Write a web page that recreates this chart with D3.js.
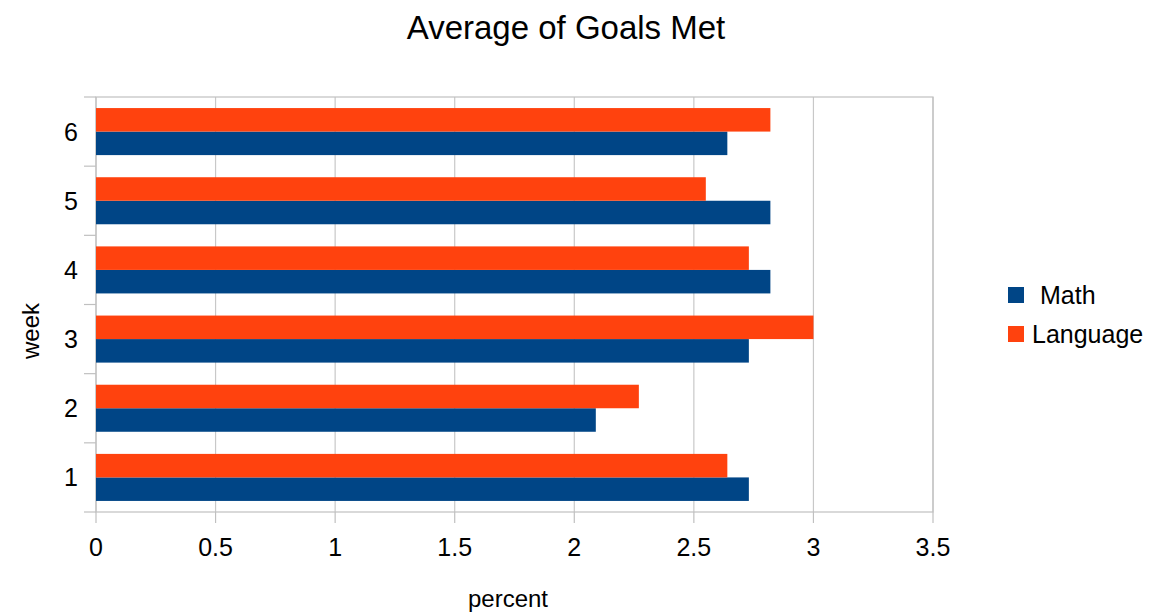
<!DOCTYPE html>
<html>
<head>
<meta charset="utf-8">
<script src="https://cdn.jsdelivr.net/npm/d3@7"></script>
<style>
  body { margin: 0; background: #fff; }
  text { font-family: "Liberation Sans", Arial, sans-serif; fill: #000; }
</style>
</head>
<body>
<svg id="chart"></svg>
<script>
// data
const weeks = ["1", "2", "3", "4", "5", "6"];
const seriesNames = ["Math", "Language"];
const mathValues = [2.73, 2.09, 2.73, 2.82, 2.82, 2.64];
const languageValues = [2.64, 2.27, 3.0, 2.73, 2.55, 2.82];
const xTicks = [0, 0.5, 1, 1.5, 2, 2.5, 3, 3.5];
const colors = ["#004586", "#ff420e"];

const width = 1149, height = 612;
const plot = { left: 96, top: 97, right: 933, bottom: 512 };

const svg = d3.select("#chart")
  .attr("width", width)
  .attr("height", height);

const x = d3.scaleLinear()
  .domain([0, 3.5])
  .range([plot.left, plot.right]);

// week 1 at the bottom
const y = d3.scaleBand()
  .domain(weeks.slice().reverse())
  .range([plot.top, plot.bottom])
  .paddingInner(0.32)
  .paddingOuter(0.16);

// language on top, math below within each band
const inner = d3.scaleBand()
  .domain(["Language", "Math"])
  .range([0, y.bandwidth()]);

// vertical grid lines
svg.append("g")
  .selectAll("line")
  .data(xTicks)
  .join("line")
  .attr("x1", d => x(d))
  .attr("x2", d => x(d))
  .attr("y1", plot.top)
  .attr("y2", plot.bottom)
  .attr("stroke", "#c8c8c8")
  .attr("stroke-width", 1.2);

// frame
svg.append("rect")
  .attr("x", plot.left)
  .attr("y", plot.top)
  .attr("width", plot.right - plot.left)
  .attr("height", plot.bottom - plot.top)
  .attr("fill", "none")
  .attr("stroke", "#c0c0c0")
  .attr("stroke-width", 1.2);

// bars
const rows = weeks.map((w, i) => ({ week: w, Math: mathValues[i], Language: languageValues[i] }));

const groups = svg.append("g")
  .selectAll("g")
  .data(rows)
  .join("g")
  .attr("transform", d => `translate(0, ${y(d.week)})`);

groups.selectAll("rect")
  .data(d => seriesNames.map((s, i) => ({ key: s, value: d[s], color: colors[i] })))
  .join("rect")
  .attr("x", x(0))
  .attr("y", d => inner(d.key))
  .attr("width", d => x(d.value) - x(0))
  .attr("height", inner.bandwidth())
  .attr("fill", d => d.color);

// y axis: band boundary ticks + labels
const boundaries = d3.range(weeks.length + 1).map(i => plot.bottom - i * (plot.bottom - plot.top) / weeks.length);

svg.append("g")
  .selectAll("line")
  .data(boundaries)
  .join("line")
  .attr("x1", plot.left - 12)
  .attr("x2", plot.left)
  .attr("y1", d => d)
  .attr("y2", d => d)
  .attr("stroke", "#c0c0c0")
  .attr("stroke-width", 1.2);

svg.append("g")
  .selectAll("text")
  .data(weeks)
  .join("text")
  .attr("x", 78)
  .attr("y", d => y(d) + y.bandwidth() / 2 + 9)
  .attr("text-anchor", "end")
  .attr("font-size", 25)
  .text(d => d);

// x axis ticks + labels
svg.append("g")
  .selectAll("line")
  .data(xTicks)
  .join("line")
  .attr("x1", d => x(d))
  .attr("x2", d => x(d))
  .attr("y1", plot.bottom)
  .attr("y2", plot.bottom + 11)
  .attr("stroke", "#c0c0c0")
  .attr("stroke-width", 1.2);

svg.append("g")
  .selectAll("text")
  .data(xTicks)
  .join("text")
  .attr("x", d => x(d))
  .attr("y", 556)
  .attr("text-anchor", "middle")
  .attr("font-size", 25)
  .text(d => d);

// titles
svg.append("text")
  .attr("x", 566)
  .attr("y", 39)
  .attr("text-anchor", "middle")
  .attr("font-size", 33)
  .text("Average of Goals Met");

svg.append("text")
  .attr("x", 508)
  .attr("y", 607)
  .attr("text-anchor", "middle")
  .attr("font-size", 24)
  .text("percent");

svg.append("text")
  .attr("transform", "translate(39, 331) rotate(-90)")
  .attr("text-anchor", "middle")
  .attr("font-size", 24)
  .text("week");

// legend
const legend = svg.append("g")
  .selectAll("g")
  .data(seriesNames)
  .join("g")
  .attr("transform", (d, i) => `translate(1008, ${287 + i * 39})`);

legend.append("rect")
  .attr("width", 16)
  .attr("height", 16)
  .attr("fill", (d, i) => colors[i]);

legend.append("text")
  .attr("x", (d, i) => i === 0 ? 32 : 24)
  .attr("y", 17)
  .attr("font-size", 25)
  .text(d => d);
</script>
</body>
</html>
